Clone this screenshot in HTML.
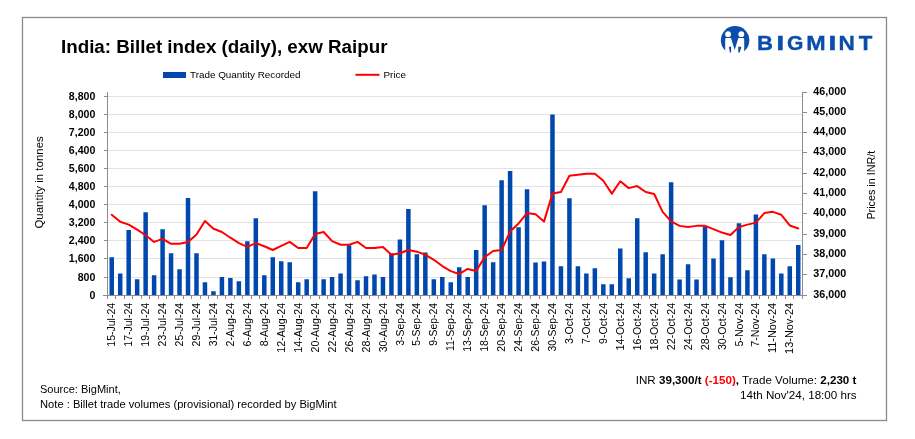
<!DOCTYPE html><html><head><meta charset="utf-8"><style>html,body{margin:0;padding:0;background:#fff;width:915px;height:439px;overflow:hidden}svg{display:block;will-change:transform}text{font-family:"Liberation Sans",sans-serif}</style></head><body>
<svg width="915" height="439" viewBox="0 0 915 439">
<rect width="915" height="439" fill="#fff"/>
<rect x="22.5" y="17.5" width="864" height="403" fill="none" stroke="#8a8a8a" stroke-width="1.3"/>
<path d="M107.5 277.5H802.5M107.5 258.5H802.5M107.5 240.5H802.5M107.5 222.5H802.5M107.5 204.5H802.5M107.5 186.5H802.5M107.5 168.5H802.5M107.5 150.5H802.5M107.5 132.5H802.5M107.5 114.5H802.5M107.5 96.5H802.5" stroke="#e2e2e2" stroke-width="1" fill="none" shape-rendering="crispEdges"/>
<path d="M109.49 257.17h4.5V295.0h-4.5ZM117.96 273.38h4.5V295.0h-4.5ZM126.44 230.12h4.5V295.0h-4.5ZM134.91 279.29h4.5V295.0h-4.5ZM143.39 212.3h4.5V295.0h-4.5ZM151.87 275.37h4.5V295.0h-4.5ZM160.34 229.13h4.5V295.0h-4.5ZM168.82 253.26h4.5V295.0h-4.5ZM177.29 269.27h4.5V295.0h-4.5ZM185.77 198.1h4.5V295.0h-4.5ZM194.24 253.26h4.5V295.0h-4.5ZM202.72 282.29h4.5V295.0h-4.5ZM211.2 291.2h4.5V295.0h-4.5ZM219.67 277.09h4.5V295.0h-4.5ZM228.15 278.09h4.5V295.0h-4.5ZM236.62 281.28h4.5V295.0h-4.5ZM245.1 241.14h4.5V295.0h-4.5ZM253.57 218.23h4.5V295.0h-4.5ZM262.05 275.37h4.5V295.0h-4.5ZM270.52 257.17h4.5V295.0h-4.5ZM279 261.35h4.5V295.0h-4.5ZM287.48 262.37h4.5V295.0h-4.5ZM295.95 282.29h4.5V295.0h-4.5ZM304.43 279.29h4.5V295.0h-4.5ZM312.9 191.14h4.5V295.0h-4.5ZM321.38 279.22h4.5V295.0h-4.5ZM329.85 277.09h4.5V295.0h-4.5ZM338.33 273.38h4.5V295.0h-4.5ZM346.8 245.14h4.5V295.0h-4.5ZM355.28 280.28h4.5V295.0h-4.5ZM363.76 276.19h4.5V295.0h-4.5ZM372.23 274.38h4.5V295.0h-4.5ZM380.71 277.09h4.5V295.0h-4.5ZM389.18 253.26h4.5V295.0h-4.5ZM397.66 239.44h4.5V295.0h-4.5ZM406.13 209.12h4.5V295.0h-4.5ZM414.61 254.25h4.5V295.0h-4.5ZM423.09 252.47h4.5V295.0h-4.5ZM431.56 279.22h4.5V295.0h-4.5ZM440.04 277.09h4.5V295.0h-4.5ZM448.51 282.29h4.5V295.0h-4.5ZM456.99 267.28h4.5V295.0h-4.5ZM465.46 277.09h4.5V295.0h-4.5ZM473.94 250.05h4.5V295.0h-4.5ZM482.41 205.2h4.5V295.0h-4.5ZM490.89 262.37h4.5V295.0h-4.5ZM499.37 180.17h4.5V295.0h-4.5ZM507.84 171.12h4.5V295.0h-4.5ZM516.32 227.21h4.5V295.0h-4.5ZM524.79 189.22h4.5V295.0h-4.5ZM533.27 262.46h4.5V295.0h-4.5ZM541.74 261.44h4.5V295.0h-4.5ZM550.22 114.59h4.5V295.0h-4.5ZM558.7 266.35h4.5V295.0h-4.5ZM567.17 198.35h4.5V295.0h-4.5ZM575.65 266.35h4.5V295.0h-4.5ZM584.12 273.47h4.5V295.0h-4.5ZM592.6 268.36h4.5V295.0h-4.5ZM601.07 284.37h4.5V295.0h-4.5ZM609.55 284.37h4.5V295.0h-4.5ZM618.02 248.44h4.5V295.0h-4.5ZM626.5 278.18h4.5V295.0h-4.5ZM634.98 218.3h4.5V295.0h-4.5ZM643.45 252.33h4.5V295.0h-4.5ZM651.93 273.56h4.5V295.0h-4.5ZM660.4 254.34h4.5V295.0h-4.5ZM668.88 182.23h4.5V295.0h-4.5ZM677.35 279.38h4.5V295.0h-4.5ZM685.83 264.36h4.5V295.0h-4.5ZM694.3 279.38h4.5V295.0h-4.5ZM702.78 226.51h4.5V295.0h-4.5ZM711.26 258.44h4.5V295.0h-4.5ZM719.73 240.21h4.5V295.0h-4.5ZM728.21 277.18h4.5V295.0h-4.5ZM736.68 223.29h4.5V295.0h-4.5ZM745.16 270.35h4.5V295.0h-4.5ZM753.63 214.38h4.5V295.0h-4.5ZM762.11 254.34h4.5V295.0h-4.5ZM770.59 258.44h4.5V295.0h-4.5ZM779.06 273.56h4.5V295.0h-4.5ZM787.54 266.33h4.5V295.0h-4.5ZM796.01 245.07h4.5V295.0h-4.5Z" fill="#0048AE"/>
<path d="M107.5 92V295.5M802.5 92V295.5M103 295.5H806.5M103.5 295.5H107.5M103.5 277.5H107.5M103.5 258.5H107.5M103.5 240.5H107.5M103.5 222.5H107.5M103.5 204.5H107.5M103.5 186.5H107.5M103.5 168.5H107.5M103.5 150.5H107.5M103.5 132.5H107.5M103.5 114.5H107.5M103.5 96.5H107.5M802.5 295.5H806.5M802.5 274.5H806.5M802.5 254.5H806.5M802.5 234.5H806.5M802.5 213.5H806.5M802.5 193.5H806.5M802.5 173.5H806.5M802.5 152.5H806.5M802.5 132.5H806.5M802.5 112.5H806.5M802.5 92.5H806.5M107.5 295.5V299.0M115.5 295.5V299.0M124.5 295.5V299.0M132.5 295.5V299.0M141.5 295.5V299.0M149.5 295.5V299.0M158.5 295.5V299.0M166.5 295.5V299.0M174.5 295.5V299.0M183.5 295.5V299.0M191.5 295.5V299.0M200.5 295.5V299.0M208.5 295.5V299.0M217.5 295.5V299.0M225.5 295.5V299.0M234.5 295.5V299.0M242.5 295.5V299.0M251.5 295.5V299.0M259.5 295.5V299.0M268.5 295.5V299.0M276.5 295.5V299.0M285.5 295.5V299.0M293.5 295.5V299.0M302.5 295.5V299.0M310.5 295.5V299.0M319.5 295.5V299.0M327.5 295.5V299.0M335.5 295.5V299.0M344.5 295.5V299.0M352.5 295.5V299.0M361.5 295.5V299.0M369.5 295.5V299.0M378.5 295.5V299.0M386.5 295.5V299.0M395.5 295.5V299.0M403.5 295.5V299.0M412.5 295.5V299.0M420.5 295.5V299.0M429.5 295.5V299.0M437.5 295.5V299.0M446.5 295.5V299.0M454.5 295.5V299.0M463.5 295.5V299.0M471.5 295.5V299.0M480.5 295.5V299.0M488.5 295.5V299.0M497.5 295.5V299.0M505.5 295.5V299.0M513.5 295.5V299.0M522.5 295.5V299.0M530.5 295.5V299.0M539.5 295.5V299.0M547.5 295.5V299.0M556.5 295.5V299.0M564.5 295.5V299.0M573.5 295.5V299.0M581.5 295.5V299.0M590.5 295.5V299.0M598.5 295.5V299.0M607.5 295.5V299.0M615.5 295.5V299.0M624.5 295.5V299.0M632.5 295.5V299.0M641.5 295.5V299.0M649.5 295.5V299.0M658.5 295.5V299.0M666.5 295.5V299.0M675.5 295.5V299.0M683.5 295.5V299.0M691.5 295.5V299.0M700.5 295.5V299.0M708.5 295.5V299.0M717.5 295.5V299.0M725.5 295.5V299.0M734.5 295.5V299.0M742.5 295.5V299.0M751.5 295.5V299.0M759.5 295.5V299.0M768.5 295.5V299.0M776.5 295.5V299.0M785.5 295.5V299.0M793.5 295.5V299.0M802.5 295.5V299.0" stroke="#8c8c8c" stroke-width="1" fill="none" shape-rendering="crispEdges"/>
<polyline points="111.74,214.81 120.21,221.71 128.69,224.59 137.16,229.61 145.64,235.21 154.12,241.91 162.59,238.9 171.07,243.8 179.54,243.8 188.02,241.91 196.49,234.5 204.97,221 213.45,228.79 221.92,232 230.4,237.71 238.87,243.11 247.35,246.8 255.82,243.11 264.3,246.29 272.77,250.01 281.25,245.81 289.73,241.91 298.2,248 306.68,248 315.15,233.99 323.63,231.96 332.1,241.1 340.58,244.75 349.05,244.75 357.53,241.91 366.01,248 374.48,248 382.96,246.98 391.43,254.7 399.91,253.28 408.38,250.03 416.86,251.65 425.34,254.7 433.81,259.77 442.29,266.06 450.76,271.14 459.24,273.98 467.71,268.91 476.19,270.94 484.66,257.13 493.14,251.04 501.62,250.03 510.09,231.56 518.57,223.44 527.04,213.08 535.52,214.3 543.99,221.61 552.47,193.59 560.95,191.97 569.42,175.73 577.9,174.72 586.37,173.7 594.85,173.7 603.32,180.81 611.8,193.59 620.27,181.21 628.75,188.11 637.23,186.08 645.7,191.97 654.18,194 662.65,211.86 671.13,221.41 679.6,225.87 688.08,227.09 696.55,225.87 705.03,225.87 713.51,229.12 721.98,232.57 730.46,235.01 738.93,227.09 747.41,224.65 755.88,222.62 764.36,213.08 772.84,211.86 781.31,214.81 789.79,225.47 798.26,228.51" fill="none" stroke="#FF0000" stroke-width="2" stroke-linejoin="round" stroke-linecap="round"/>
<text transform="translate(95.4,299) scale(0.9835,1)" font-size="10.8" font-weight="bold" text-anchor="end" fill="#000">0</text>
<text transform="translate(95.4,281) scale(0.9835,1)" font-size="10.8" font-weight="bold" text-anchor="end" fill="#000">800</text>
<text transform="translate(95.4,262) scale(0.9835,1)" font-size="10.8" font-weight="bold" text-anchor="end" fill="#000">1,600</text>
<text transform="translate(95.4,244) scale(0.9835,1)" font-size="10.8" font-weight="bold" text-anchor="end" fill="#000">2,400</text>
<text transform="translate(95.4,226) scale(0.9835,1)" font-size="10.8" font-weight="bold" text-anchor="end" fill="#000">3,200</text>
<text transform="translate(95.4,208) scale(0.9835,1)" font-size="10.8" font-weight="bold" text-anchor="end" fill="#000">4,000</text>
<text transform="translate(95.4,190) scale(0.9835,1)" font-size="10.8" font-weight="bold" text-anchor="end" fill="#000">4,800</text>
<text transform="translate(95.4,172) scale(0.9835,1)" font-size="10.8" font-weight="bold" text-anchor="end" fill="#000">5,600</text>
<text transform="translate(95.4,154) scale(0.9835,1)" font-size="10.8" font-weight="bold" text-anchor="end" fill="#000">6,400</text>
<text transform="translate(95.4,136) scale(0.9835,1)" font-size="10.8" font-weight="bold" text-anchor="end" fill="#000">7,200</text>
<text transform="translate(95.4,118) scale(0.9835,1)" font-size="10.8" font-weight="bold" text-anchor="end" fill="#000">8,000</text>
<text transform="translate(95.4,100) scale(0.9835,1)" font-size="10.8" font-weight="bold" text-anchor="end" fill="#000">8,800</text>
<text transform="translate(813.3,298.3) scale(0.9970,1)" font-size="10.8" font-weight="bold" fill="#000">36,000</text>
<text transform="translate(813.3,277.3) scale(0.9970,1)" font-size="10.8" font-weight="bold" fill="#000">37,000</text>
<text transform="translate(813.3,257.3) scale(0.9970,1)" font-size="10.8" font-weight="bold" fill="#000">38,000</text>
<text transform="translate(813.3,237.3) scale(0.9970,1)" font-size="10.8" font-weight="bold" fill="#000">39,000</text>
<text transform="translate(813.3,216.3) scale(0.9970,1)" font-size="10.8" font-weight="bold" fill="#000">40,000</text>
<text transform="translate(813.3,196.3) scale(0.9970,1)" font-size="10.8" font-weight="bold" fill="#000">41,000</text>
<text transform="translate(813.3,176.3) scale(0.9970,1)" font-size="10.8" font-weight="bold" fill="#000">42,000</text>
<text transform="translate(813.3,155.3) scale(0.9970,1)" font-size="10.8" font-weight="bold" fill="#000">43,000</text>
<text transform="translate(813.3,135.3) scale(0.9970,1)" font-size="10.8" font-weight="bold" fill="#000">44,000</text>
<text transform="translate(813.3,115.3) scale(0.9970,1)" font-size="10.8" font-weight="bold" fill="#000">45,000</text>
<text transform="translate(813.3,95.3) scale(0.9970,1)" font-size="10.8" font-weight="bold" fill="#000">46,000</text>
<text transform="translate(115.34,302.9) rotate(-90) scale(0.9553,1)" font-size="11" text-anchor="end" fill="#000">15-Jul-24</text>
<text transform="translate(132.29,302.9) rotate(-90) scale(0.9553,1)" font-size="11" text-anchor="end" fill="#000">17-Jul-24</text>
<text transform="translate(149.24,302.9) rotate(-90) scale(0.9553,1)" font-size="11" text-anchor="end" fill="#000">19-Jul-24</text>
<text transform="translate(166.19,302.9) rotate(-90) scale(0.9492,1)" font-size="11" text-anchor="end" fill="#000">23-Jul-24</text>
<text transform="translate(183.14,302.9) rotate(-90) scale(0.9492,1)" font-size="11" text-anchor="end" fill="#000">25-Jul-24</text>
<text transform="translate(200.09,302.9) rotate(-90) scale(0.9492,1)" font-size="11" text-anchor="end" fill="#000">29-Jul-24</text>
<text transform="translate(217.05,302.9) rotate(-90) scale(0.9464,1)" font-size="11" text-anchor="end" fill="#000">31-Jul-24</text>
<text transform="translate(234,302.9) rotate(-90) scale(0.9622,1)" font-size="11" text-anchor="end" fill="#000">2-Aug-24</text>
<text transform="translate(250.95,302.9) rotate(-90) scale(0.9623,1)" font-size="11" text-anchor="end" fill="#000">6-Aug-24</text>
<text transform="translate(267.9,302.9) rotate(-90) scale(0.9606,1)" font-size="11" text-anchor="end" fill="#000">8-Aug-24</text>
<text transform="translate(284.85,302.9) rotate(-90) scale(0.9699,1)" font-size="11" text-anchor="end" fill="#000">12-Aug-24</text>
<text transform="translate(301.8,302.9) rotate(-90) scale(0.9699,1)" font-size="11" text-anchor="end" fill="#000">14-Aug-24</text>
<text transform="translate(318.75,302.9) rotate(-90) scale(0.9645,1)" font-size="11" text-anchor="end" fill="#000">20-Aug-24</text>
<text transform="translate(335.7,302.9) rotate(-90) scale(0.9645,1)" font-size="11" text-anchor="end" fill="#000">22-Aug-24</text>
<text transform="translate(352.65,302.9) rotate(-90) scale(0.9645,1)" font-size="11" text-anchor="end" fill="#000">26-Aug-24</text>
<text transform="translate(369.61,302.9) rotate(-90) scale(0.9645,1)" font-size="11" text-anchor="end" fill="#000">28-Aug-24</text>
<text transform="translate(386.56,302.9) rotate(-90) scale(0.9619,1)" font-size="11" text-anchor="end" fill="#000">30-Aug-24</text>
<text transform="translate(403.51,302.9) rotate(-90) scale(0.9481,1)" font-size="11" text-anchor="end" fill="#000">3-Sep-24</text>
<text transform="translate(420.46,302.9) rotate(-90) scale(0.9486,1)" font-size="11" text-anchor="end" fill="#000">5-Sep-24</text>
<text transform="translate(437.41,302.9) rotate(-90) scale(0.9502,1)" font-size="11" text-anchor="end" fill="#000">9-Sep-24</text>
<text transform="translate(454.36,302.9) rotate(-90) scale(0.9540,1)" font-size="11" text-anchor="end" fill="#000">11-Sep-24</text>
<text transform="translate(471.31,302.9) rotate(-90) scale(0.9540,1)" font-size="11" text-anchor="end" fill="#000">13-Sep-24</text>
<text transform="translate(488.26,302.9) rotate(-90) scale(0.9540,1)" font-size="11" text-anchor="end" fill="#000">18-Sep-24</text>
<text transform="translate(505.22,302.9) rotate(-90) scale(0.9486,1)" font-size="11" text-anchor="end" fill="#000">20-Sep-24</text>
<text transform="translate(522.17,302.9) rotate(-90) scale(0.9486,1)" font-size="11" text-anchor="end" fill="#000">24-Sep-24</text>
<text transform="translate(539.12,302.9) rotate(-90) scale(0.9486,1)" font-size="11" text-anchor="end" fill="#000">26-Sep-24</text>
<text transform="translate(556.07,302.9) rotate(-90) scale(0.9461,1)" font-size="11" text-anchor="end" fill="#000">30-Sep-24</text>
<text transform="translate(573.02,302.9) rotate(-90) scale(0.9584,1)" font-size="11" text-anchor="end" fill="#000">3-Oct-24</text>
<text transform="translate(589.97,302.9) rotate(-90) scale(0.9617,1)" font-size="11" text-anchor="end" fill="#000">7-Oct-24</text>
<text transform="translate(606.92,302.9) rotate(-90) scale(0.9606,1)" font-size="11" text-anchor="end" fill="#000">9-Oct-24</text>
<text transform="translate(623.87,302.9) rotate(-90) scale(0.9738,1)" font-size="11" text-anchor="end" fill="#000">14-Oct-24</text>
<text transform="translate(640.83,302.9) rotate(-90) scale(0.9738,1)" font-size="11" text-anchor="end" fill="#000">16-Oct-24</text>
<text transform="translate(657.78,302.9) rotate(-90) scale(0.9738,1)" font-size="11" text-anchor="end" fill="#000">18-Oct-24</text>
<text transform="translate(674.73,302.9) rotate(-90) scale(0.9681,1)" font-size="11" text-anchor="end" fill="#000">22-Oct-24</text>
<text transform="translate(691.68,302.9) rotate(-90) scale(0.9681,1)" font-size="11" text-anchor="end" fill="#000">24-Oct-24</text>
<text transform="translate(708.63,302.9) rotate(-90) scale(0.9681,1)" font-size="11" text-anchor="end" fill="#000">28-Oct-24</text>
<text transform="translate(725.58,302.9) rotate(-90) scale(0.9654,1)" font-size="11" text-anchor="end" fill="#000">30-Oct-24</text>
<text transform="translate(742.53,302.9) rotate(-90) scale(0.9668,1)" font-size="11" text-anchor="end" fill="#000">5-Nov-24</text>
<text transform="translate(759.48,302.9) rotate(-90) scale(0.9695,1)" font-size="11" text-anchor="end" fill="#000">7-Nov-24</text>
<text transform="translate(776.44,302.9) rotate(-90) scale(0.9941,1)" font-size="11" text-anchor="end" fill="#000">11-Nov-24</text>
<text transform="translate(793.39,302.9) rotate(-90) scale(0.9941,1)" font-size="11" text-anchor="end" fill="#000">13-Nov-24</text>
<text transform="translate(42.9,182.4) rotate(-90) scale(1.0430,1)" font-size="11" text-anchor="middle" fill="#000">Quantity in tonnes</text>
<text transform="translate(874.5,185.2) rotate(-90) scale(0.9800,1)" font-size="11" text-anchor="middle" fill="#000">Prices in INR/t</text>
<text transform="translate(61,52.5) scale(1.0157,1)" font-size="18.5" font-weight="bold" fill="#000">India: Billet index (daily), exw Raipur</text>
<rect x="163" y="72" width="23" height="6" fill="#0048AE"/>
<text transform="translate(190,77.8) scale(1.0400,1)" font-size="9.5" fill="#000">Trade Quantity Recorded</text>
<path d="M355.5 74.8H379.5" stroke="#FF0000" stroke-width="2"/>
<text transform="translate(383.5,77.8) scale(1.0400,1)" font-size="9.5" fill="#000">Price</text>
<text transform="translate(40,392.8) scale(0.9580,1)" font-size="11.5" fill="#000">Source: BigMint,</text>
<text transform="translate(40,407.7) scale(0.9720,1)" font-size="11.5" fill="#000">Note : Billet trade volumes (provisional) recorded by BigMint</text>
<text transform="translate(856.4,383.8) scale(1.0100,1)" font-size="11.5" text-anchor="end" fill="#000">INR <tspan font-weight="bold">39,300/t</tspan> <tspan font-weight="bold" fill="#FF0000">(-150)</tspan><tspan font-weight="bold">,</tspan> Trade Volume: <tspan font-weight="bold">2,230 t</tspan></text>
<text transform="translate(856.6,399) scale(1.0120,1)" font-size="11.5" text-anchor="end" fill="#000">14th Nov'24, 18:00 hrs</text>
<g>
<circle cx="735.1" cy="40.25" r="14.25" fill="#0A4DAA"/>
<circle cx="728.1" cy="34.2" r="2.9" fill="#fff"/><circle cx="741.3" cy="34.2" r="2.9" fill="#fff"/>
<path d="M725.2 56V39.3Q725.2 37.9 726.6 37.9H731L734.7 49.9L738.3 37.9H742.8Q744.2 37.9 744.2 39.3V56Z" fill="#fff"/>
<path d="M728.8 46.8L731.1 46.8L731.1 52.4L729.9 52.4Z M741.4 46.8L738.3 46.8L738.3 52.4L739.7 52.4Z" fill="#0A4DAA"/>
</g>
<text transform="translate(757.12,49.6) scale(1.0491,1)" font-size="21.1" font-weight="bold" fill="#0A4DAA" stroke="#0A4DAA" stroke-width="0.35">B</text>
<text transform="translate(776.15,49.6) scale(1.3819,1)" font-size="21.1" font-weight="bold" fill="#0A4DAA" stroke="#0A4DAA" stroke-width="0.35">I</text>
<text transform="translate(787.04,49.6) scale(0.9973,1)" font-size="21.1" font-weight="bold" fill="#0A4DAA" stroke="#0A4DAA" stroke-width="0.35">G</text>
<text transform="translate(806.34,49.6) scale(1.1048,1)" font-size="21.1" font-weight="bold" fill="#0A4DAA" stroke="#0A4DAA" stroke-width="0.35">M</text>
<text transform="translate(828.2,49.6) scale(1.4148,1)" font-size="21.1" font-weight="bold" fill="#0A4DAA" stroke="#0A4DAA" stroke-width="0.35">I</text>
<text transform="translate(838.59,49.6) scale(1.0722,1)" font-size="21.1" font-weight="bold" fill="#0A4DAA" stroke="#0A4DAA" stroke-width="0.35">N</text>
<text transform="translate(858.75,49.6) scale(1.0543,1)" font-size="21.1" font-weight="bold" fill="#0A4DAA" stroke="#0A4DAA" stroke-width="0.35">T</text>
</svg></body></html>
